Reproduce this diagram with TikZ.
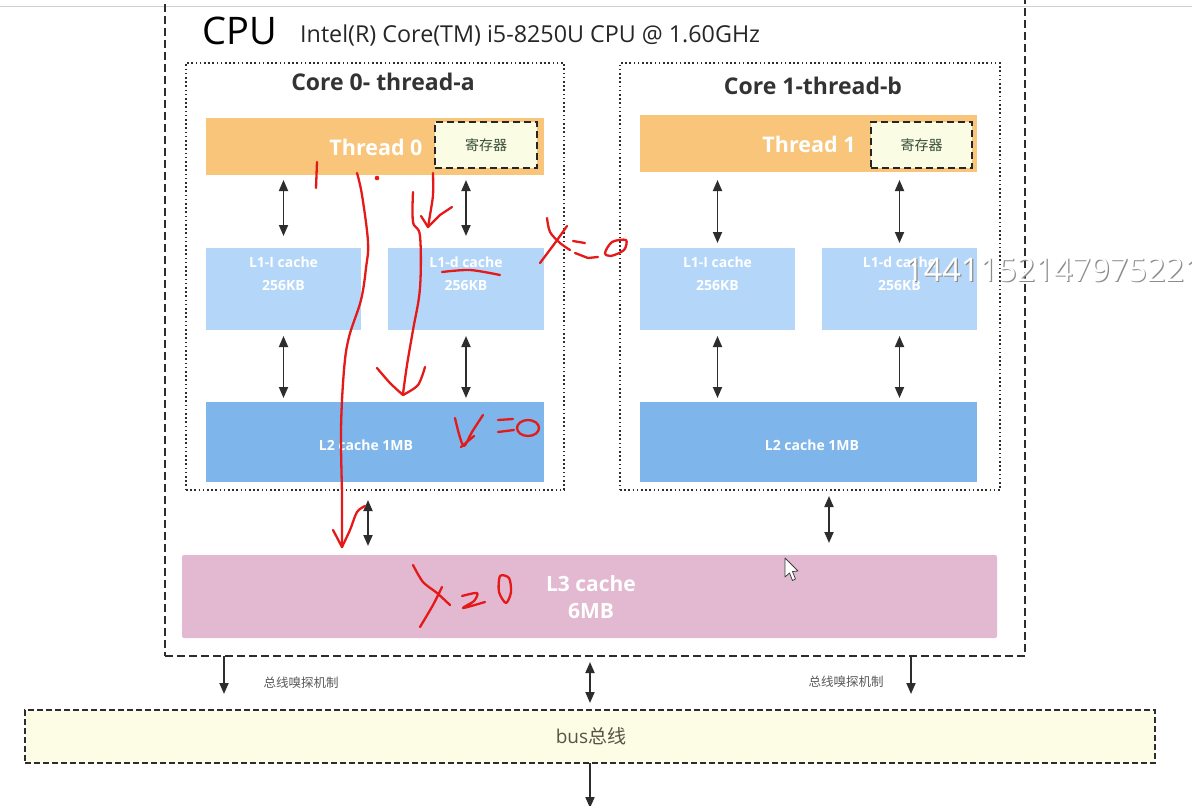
\documentclass[tikz,border=0pt]{standalone}
\usepackage{fontspec}
\setmainfont{Open Sans}
\newfontfamily\cjk{Noto Sans CJK SC}
\usetikzlibrary{arrows.meta,calc}
\definecolor{thr}{RGB}{248,197,122}
\definecolor{reg}{RGB}{250,253,227}
\definecolor{regtxt}{RGB}{55,75,55}
\definecolor{lone}{RGB}{180,214,248}
\definecolor{ltwo}{RGB}{126,181,234}
\definecolor{lthree}{RGB}{226,185,208}
\definecolor{busfill}{RGB}{253,253,230}
\definecolor{bustxt}{RGB}{85,85,70}
\definecolor{arr}{RGB}{45,45,45}
\definecolor{ink}{RGB}{230,25,25}
\begin{document}
\begin{tikzpicture}[x=1pt,y=-1pt,
  box/.style={inner sep=0pt, outer sep=0pt, anchor=north west},
  dbl/.style={{Triangle[length=11pt,width=9pt]}-{Triangle[length=11pt,width=9pt]}, line width=1.8pt, draw=arr},
  one/.style={-{Triangle[length=11pt,width=9pt]}, line width=1.8pt, draw=arr},
  ink/.style={draw=ink, line width=2.3pt, line cap=round, line join=round},
  wtxt/.style={text=white, font=\bfseries\fontsize{14}{16}\selectfont, inner sep=0pt},
  coretitle/.style={text=black!80, font=\bfseries\fontsize{23}{25}\selectfont, inner sep=0pt},
  snoop/.style={text=black!65, font=\cjk\fontsize{12.5}{14}\selectfont, inner sep=0pt},
]
\useasboundingbox (0,0) rectangle (1192,806);
\fill[white] (0,0) rectangle (1192,806);
\clip (0,0) rectangle (1192,806);

% faint screen line at top
\draw[black!18, line width=0.8pt] (0,6) -- (1192,6);

% CPU outer box
\node[box, draw=arr, line width=1.5pt, dash pattern=on 8pt off 4pt, minimum width=860pt, minimum height=666pt] (cpu) at (165,-10) {};
\node[anchor=base west, inner sep=0pt, font=\fontsize{38}{40}\selectfont] (cpulbl) at (202,44) {CPU};
\node[anchor=base west, inner sep=0pt, font=\fontsize{23.3}{25}\selectfont, text=black!85] (model) at (300,42) {Intel(R) Core(TM) i5-8250U CPU @ 1.60GHz};

% cores
\node[box, draw=arr, line width=1.6pt, dash pattern=on 1.6pt off 2.6pt, minimum width=378pt, minimum height=427pt] (c0) at (186,63) {};
\node[box, draw=arr, line width=1.6pt, dash pattern=on 1.6pt off 2.6pt, minimum width=380pt, minimum height=427pt] (c1) at (620,63) {};
\node[coretitle] (c0t) at (383,82) {Core 0- thread-a};
\node[coretitle] (c1t) at (813,86) {Core 1-thread-b};

% threads
\node[box, fill=thr, minimum width=338pt, minimum height=57pt] (t0) at (206,118) {};
\node[box, fill=thr, minimum width=337pt, minimum height=57pt] (t1) at (640,115) {};
\node[text=white, font=\bfseries\fontsize{21.5}{23}\selectfont, inner sep=0pt] (t0l) at (376,147) {Thread 0};
\node[text=white, font=\bfseries\fontsize{21.5}{23}\selectfont, inner sep=0pt] (t1l) at (809,144) {Thread 1};
\node[box, fill=reg, draw=black!85, line width=1.7pt, dash pattern=on 7pt off 4pt, minimum width=102pt, minimum height=46pt, text=regtxt, font=\cjk\fontsize{14}{16}\selectfont] (r0) at (435,122) {寄存器};
\node[box, fill=reg, draw=black!85, line width=1.7pt, dash pattern=on 7pt off 4pt, minimum width=101pt, minimum height=46pt, text=regtxt, font=\cjk\fontsize{14}{16}\selectfont] (r1) at (871,122) {寄存器};

% L1 caches
\node[box, fill=lone, minimum width=155pt, minimum height=82pt] (l1i0) at (206,248) {};
\node[box, fill=lone, minimum width=156pt, minimum height=82pt] (l1d0) at (388,248) {};
\node[box, fill=lone, minimum width=155pt, minimum height=82pt] (l1i1) at (640,248) {};
\node[box, fill=lone, minimum width=155pt, minimum height=82pt] (l1d1) at (822,248) {};
\foreach \n/\t in {l1i0/L1-I cache, l1d0/L1-d cache, l1i1/L1-I cache, l1d1/L1-d cache}{
  \node[wtxt] at ($(\n.north)+(0,14)$) {\t};
  \node[wtxt] at ($(\n.north)+(0,37)$) {256KB};
}

% L2 caches
\node[box, fill=ltwo, minimum width=338pt, minimum height=80pt] (l20) at (206,402) {};
\node[box, fill=ltwo, minimum width=337pt, minimum height=80pt] (l21) at (640,402) {};
\node[wtxt] (l20l) at (366,445) {L2 cache 1MB};
\node[wtxt] (l21l) at (812,445) {L2 cache 1MB};

% L3
\node[box, fill=lthree, rounded corners=2pt, minimum width=815pt, minimum height=83pt] (l3) at (182,555) {};
\node[text=white, font=\bfseries\fontsize{21}{27}\selectfont, align=center, inner sep=0pt] (l3l) at (591,597) {L3 cache\\6MB};

% bus
\node[box, fill=busfill, draw=arr, line width=1.5pt, dash pattern=on 6pt off 3pt, minimum width=1130pt, minimum height=53pt] (bus) at (25,710) {};
\node[text=bustxt, inner sep=0pt, font=\fontsize{19}{21}\selectfont] (busl) at (591,736) {bus\cjk 总线};

% arrows thread <-> L1
\draw[dbl] ([yshift=-5pt]t0.south -| l1i0.north) -- ([yshift=12pt]l1i0.north);
\draw[dbl] ([yshift=-5pt]t0.south -| l1d0.north) -- ([yshift=12pt]l1d0.north);
\draw[dbl] ([yshift=-8pt]t1.south -| l1i1.north) -- ([yshift=5pt]l1i1.north);
\draw[dbl] ([yshift=-8pt]t1.south -| l1d1.north) -- ([yshift=5pt]l1d1.north);
% arrows L1 <-> L2
\draw[dbl] ([yshift=-6pt]l1i0.south) -- ([yshift=4pt]l20.north -| l1i0.south);
\draw[dbl] ([yshift=-6pt]l1d0.south) -- ([yshift=4pt]l20.north -| l1d0.south);
\draw[dbl] ([yshift=-6pt]l1i1.south) -- ([yshift=4pt]l21.north -| l1i1.south);
\draw[dbl] ([yshift=-6pt]l1d1.south) -- ([yshift=4pt]l21.north -| l1d1.south);
% arrows L2 <-> L3
\coordinate (a3a) at (368,500);
\coordinate (a3b) at (829,496);
\draw[dbl] (a3a) -- ([yshift=9pt]a3a |- l3.north);
\draw[dbl] (a3b) -- ([yshift=12pt]a3b |- l3.north);

% CPU <-> bus
\coordinate (sl) at (224,656);
\coordinate (sr) at (911,656);
\coordinate (sm) at (590,662);
\draw[one] (sl) -- ([yshift=16pt]sl |- bus.north);
\draw[one] (sr) -- ([yshift=16pt]sr |- bus.north);
\draw[dbl] (sm) -- ([yshift=7pt]sm |- bus.north);
\node[snoop] (sn1) at (301,683) {总线嗅探机制};
\node[snoop] (sn2) at (846,682) {总线嗅探机制};
\coordinate (below) at (590,808);
\draw[one] (bus.south -| sm) -- (below);

% overlay number
\node[anchor=base west, inner sep=0pt, font=\fontsize{32.5}{33}\selectfont, text=black!45] at (906.2,282.2) {14411521479752211};
\node[anchor=base west, inner sep=0pt, font=\fontsize{32.5}{33}\selectfont, text=white] (num) at (905,281) {14411521479752211};

% mouse cursor
\draw[fill=white, draw=black!75, line width=0.8pt, line join=round] (785,558) -- (785,577) -- (789.5,573) -- (792.5,580.5) -- (795.5,579) -- (792.5,571.5) -- (798,571) -- cycle;

% red handwriting
\draw[ink] (317,162) -- (316,188);
\fill[ink] (377,178) circle (1.4pt);
\draw[ink] plot[smooth, tension=0.6] coordinates {(357,173) (362,195) (368,242) (366,268) (361,300) (349,337) (344,370) (341,430) (342,497) (342,547)};
\draw[ink] (333,530) -- (342,547);
\draw[ink] plot[smooth] coordinates {(342,547) (350,530) (357,512) (365,506)};
\draw[ink] plot[smooth] coordinates {(433,173) (433,195) (430,215) (428,227)};
\draw[ink] (421,216) -- (428,227) -- (440,215) -- (452,207);
\draw[ink] plot[smooth, tension=0.6] coordinates {(413,192) (413,222) (420,236) (420,288) (413,330) (407,365) (403,394)};
\draw[ink] plot[smooth] coordinates {(377,368) (390,383) (403,395)};
\draw[ink] plot[smooth] coordinates {(403,395) (418,385) (425,367)};
\draw[ink] plot[smooth] coordinates {(442,272) (470,270) (500,275)};
% x=0 (1)
\draw[ink] plot[smooth] coordinates {(547,218) (550,232) (560,243) (570,250)};
\draw[ink] plot[smooth] coordinates {(567,226) (555,243) (540,263)};
\draw[ink] (573,241) -- (585,243);
\draw[ink] (575,253) -- (588,258) -- (598,257);
\draw[ink] plot[smooth cycle] coordinates {(605,253) (612,242) (626,240) (624,250) (611,256)};
% x=0 (2)
\draw[ink] plot[smooth] coordinates {(455,418) (459,434) (464,446) (472,432) (483,415)};
\draw[ink] (474,436) -- (461,447);
\draw[ink] (498,420) -- (513,419);
\draw[ink] (498,432) -- (514,430);
\draw[ink] (528,428) ellipse (11pt and 8pt);
% x=0 (3)
\draw[ink] plot[smooth] coordinates {(413,565) (423,582) (437,593) (450,605)};
\draw[ink] plot[smooth] coordinates {(442,587) (433,605) (420,627)};
\draw[ink] plot[smooth] coordinates {(462,596) (477,593) (474,601) (463,608) (485,602)};
\draw[ink] plot[smooth cycle] coordinates {(500,576) (509,578) (511,592) (506,603) (499,592)};
\end{tikzpicture}
\end{document}
